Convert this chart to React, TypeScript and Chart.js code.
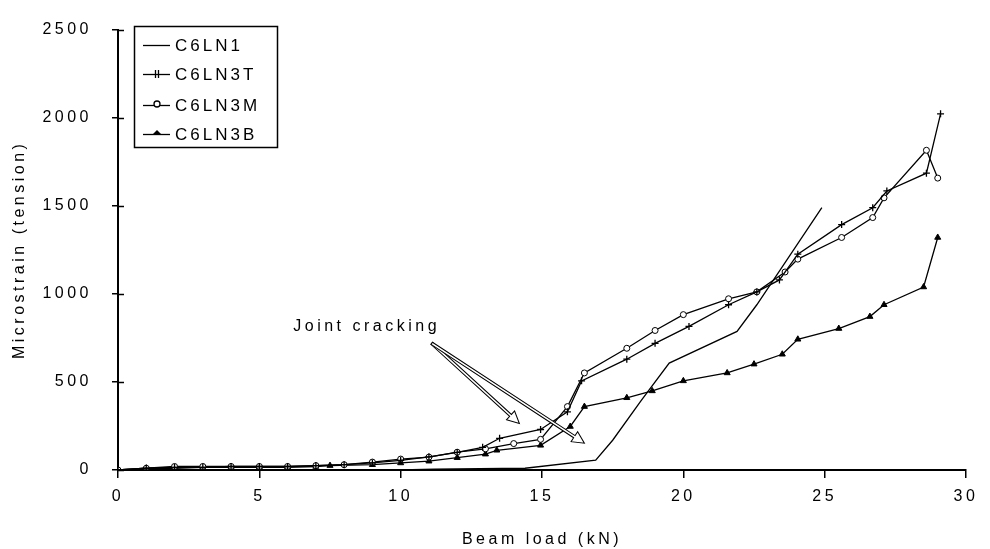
import React, { useEffect, useRef } from "react";
import { Chart, registerables } from "chart.js";

Chart.register(...registerables);

// ---- data (Beam load kN -> microstrain) ----
const loadC6LN1 = [0, 5, 10, 11.2, 14.4, 16.9, 17.5, 18.5, 19.5, 21.9, 22.6, 24.9];
const strainC6LN1 = [0, 0, 0, 5, 10, 56, 169, 393, 607, 787, 938, 1490];

const loadC6LN3T = [0, 1, 2, 3, 4, 5, 6, 7, 8, 9, 10, 11, 12, 12.9, 13.5, 14.95, 15.9, 16.4, 18.0, 19.0, 20.2, 21.6, 22.6, 23.4, 24.05, 25.6, 26.7, 27.2, 28.6, 29.1];
const strainC6LN3T = [0, 10, 15, 15, 20, 20, 20, 25, 30, 40, 55, 75, 100, 129, 180, 230, 330, 506, 629, 719, 815, 938, 1011, 1079, 1225, 1393, 1489, 1584, 1685, 2022];

const loadC6LN3M = [0, 1, 2, 3, 4, 5, 6, 7, 8, 9, 10, 11, 12, 13, 14, 14.95, 15.9, 16.5, 18.0, 19.0, 20.0, 21.6, 22.6, 23.6, 24.05, 25.6, 26.7, 27.1, 28.6, 29.0];
const strainC6LN3M = [0, 10, 20, 20, 20, 20, 20, 25, 30, 45, 62, 73, 101, 120, 150, 174, 360, 551, 691, 792, 882, 972, 1011, 1124, 1197, 1320, 1433, 1545, 1815, 1657];

const loadC6LN3B = [0, 1, 2, 3, 4, 5, 6, 7, 7.5, 9, 10, 11, 12, 13, 13.4, 14.95, 16.0, 16.5, 18.0, 18.9, 20.0, 21.55, 22.5, 23.5, 24.05, 25.5, 26.6, 27.1, 28.5, 29.0];
const strainC6LN3B = [0, 10, 10, 15, 15, 15, 15, 20, 25, 30, 40, 50, 70, 90, 112, 140, 247, 360, 410, 449, 506, 551, 601, 657, 742, 803, 871, 938, 1039, 1320];

const seriesNames = ["C6LN1", "C6LN3T", "C6LN3M", "C6LN3B"];
const xTitle = "Beam load (kN)";
const yTitle = "Microstrain (tension)";
const xMin = 0, xMax = 30, xStep = 5;
const yMin = 0, yMax = 2500, yStep = 500;

const noteText = "Joint cracking";
const noteTextPos = [6.2, 815]; // left edge of text, data units
const arrowTail = [11.1, 719];
const arrowTips = [[14.2, 264], [16.5, 152]];

const FONT = '"Liberation Sans", Arial, sans-serif';
const SPACING = "3.5px";

const toPts = (xs: number[], ys: number[]) => xs.map((x, i) => ({ x, y: ys[i] }));

function drawMarker(ctx: CanvasRenderingContext2D, style: string, x: number, y: number) {
  ctx.save();
  ctx.strokeStyle = "#000";
  ctx.fillStyle = "#000";
  ctx.lineWidth = 1.3;
  if (style === "cross") {
    ctx.beginPath();
    ctx.moveTo(x - 1.5, y - 4); ctx.lineTo(x - 1.5, y + 4);
    ctx.moveTo(x + 1.5, y - 4); ctx.lineTo(x + 1.5, y + 4);
    ctx.stroke();
  } else if (style === "circle") {
    ctx.fillStyle = "#fff";
    ctx.beginPath();
    ctx.arc(x, y - 1, 3, 0, Math.PI * 2);
    ctx.fill();
    ctx.stroke();
  } else if (style === "triangle") {
    ctx.beginPath();
    ctx.moveTo(x, y - 4); ctx.lineTo(x + 5, y + 1); ctx.lineTo(x - 5, y + 1);
    ctx.closePath();
    ctx.fill();
  }
  ctx.restore();
}

const legendStyles = ["none", "cross", "circle", "triangle"];

const customPlugin = {
  id: "custom",
  beforeDraw(chart: any) {
    chart.ctx.letterSpacing = SPACING;
  },
  afterDraw(chart: any) {
    const ctx: CanvasRenderingContext2D = chart.ctx;
    const xs = chart.scales.x, ys = chart.scales.y;
    ctx.save();
    // inward tick marks on y axis
    ctx.strokeStyle = "#000";
    ctx.lineWidth = 1.5;
    ys.ticks.forEach((t: any) => {
      const py = Math.round(ys.getPixelForValue(t.value)) + 0.5;
      ctx.beginPath();
      ctx.moveTo(xs.left, py);
      ctx.lineTo(xs.left + 6, py);
      ctx.stroke();
    });

    // legend box
    const bx = 134, by = 26, bw = 143, bh = 121;
    ctx.lineWidth = 1.5;
    ctx.strokeRect(bx + 0.5, by + 0.5, bw, bh);
    ctx.font = `17px ${FONT}`;
    ctx.letterSpacing = "3px";
    ctx.textBaseline = "middle";
    ctx.textAlign = "left";
    ctx.fillStyle = "#000";
    const rows = [45, 74, 105, 134];
    seriesNames.forEach((name, i) => {
      const ry = rows[i];
      ctx.lineWidth = 1.3;
      ctx.beginPath();
      ctx.moveTo(143, ry + 0.5);
      ctx.lineTo(170, ry + 0.5);
      ctx.stroke();
      drawMarker(ctx, legendStyles[i], 157, ry);
      ctx.fillText(name, 175, ry + 1);
    });

    // annotation text
    ctx.font = `16px ${FONT}`;
    ctx.letterSpacing = SPACING;
    ctx.fillText(noteText, xs.getPixelForValue(noteTextPos[0]), ys.getPixelForValue(noteTextPos[1]));

    // hollow arrows
    const tx = xs.getPixelForValue(arrowTail[0]);
    const ty = ys.getPixelForValue(arrowTail[1]);
    arrowTips.forEach(([ax, ay]) => {
      const hx = xs.getPixelForValue(ax);
      const hy = ys.getPixelForValue(ay);
      const ang = Math.atan2(hy - ty, hx - tx);
      const len = Math.hypot(hx - tx, hy - ty);
      ctx.save();
      ctx.translate(tx, ty);
      ctx.rotate(ang);
      const hl = 12, hw = 6, sw = 1.3;
      ctx.beginPath();
      ctx.moveTo(0, -sw);
      ctx.lineTo(len - hl, -sw);
      ctx.lineTo(len - hl, -hw);
      ctx.lineTo(len, 0);
      ctx.lineTo(len - hl, hw);
      ctx.lineTo(len - hl, sw);
      ctx.lineTo(0, sw);
      ctx.closePath();
      ctx.fillStyle = "#fff";
      ctx.fill();
      ctx.lineWidth = 1;
      ctx.strokeStyle = "#000";
      ctx.stroke();
      ctx.restore();
    });
    ctx.restore();
  },
};

export default function App() {
  const ref = useRef<HTMLCanvasElement>(null);
  useEffect(() => {
    document.body.style.margin = "0";
    const canvas = ref.current!;
    const lineCommon = {
      borderColor: "#000",
      borderWidth: 1.3,
      showLine: true,
      tension: 0,
      pointBorderColor: "#000",
    };
    const chart = new Chart(canvas, {
      type: "scatter",
      data: {
        datasets: [
          { ...lineCommon, label: seriesNames[0], data: toPts(loadC6LN1, strainC6LN1), pointRadius: 0 },
          { ...lineCommon, label: seriesNames[1], data: toPts(loadC6LN3T, strainC6LN3T), pointStyle: "cross", pointRadius: 3.5, pointBorderWidth: 1.3 },
          { ...lineCommon, label: seriesNames[2], data: toPts(loadC6LN3M, strainC6LN3M), pointStyle: "circle", pointRadius: 3, pointBackgroundColor: "#fff", pointBorderWidth: 1 },
          { ...lineCommon, label: seriesNames[3], data: toPts(loadC6LN3B, strainC6LN3B), pointStyle: "triangle", pointRadius: 3.5, pointBackgroundColor: "#000", pointBorderWidth: 1 },
        ],
      },
      options: {
        responsive: false,
        animation: false,
        devicePixelRatio: 1,
        layout: { padding: { left: 0, top: 26, right: 24, bottom: 0 } },
        plugins: { legend: { display: false }, tooltip: { enabled: false } },
        scales: {
          x: {
            type: "linear",
            min: xMin,
            max: xMax,
            ticks: { stepSize: xStep, color: "#000", padding: 9, font: { family: FONT, size: 16 }, callback: (v: any) => String(v) },
            grid: { drawOnChartArea: false, drawTicks: true, tickLength: 8, color: "#000", lineWidth: 1.5 },
            border: { display: true, color: "#000", width: 2 },
            title: { display: true, text: xTitle, color: "#000", font: { family: FONT, size: 16 }, padding: { top: 0, bottom: 0 } },
            afterFit: (s: any) => { s.height = 79; },
          },
          y: {
            type: "linear",
            min: yMin,
            max: yMax,
            ticks: { stepSize: yStep, color: "#000", padding: 20, font: { family: FONT, size: 16 }, callback: (v: any) => String(v) },
            grid: { drawOnChartArea: false, drawTicks: true, tickLength: 6, color: "#000", lineWidth: 1.5 },
            border: { display: true, color: "#000", width: 2 },
            title: { display: true, text: yTitle, color: "#000", font: { family: FONT, size: 16 }, padding: { top: 10, bottom: 0 } },
            afterFit: (s: any) => { s.width = 118; },
          },
        },
      },
      plugins: [customPlugin],
    });
    return () => chart.destroy();
  }, []);
  return (
    <div style={{ position: "fixed", left: 0, top: 0, width: 990, height: 549, background: "#fff" }}>
      <canvas ref={ref} width={990} height={549} />
    </div>
  );
}
